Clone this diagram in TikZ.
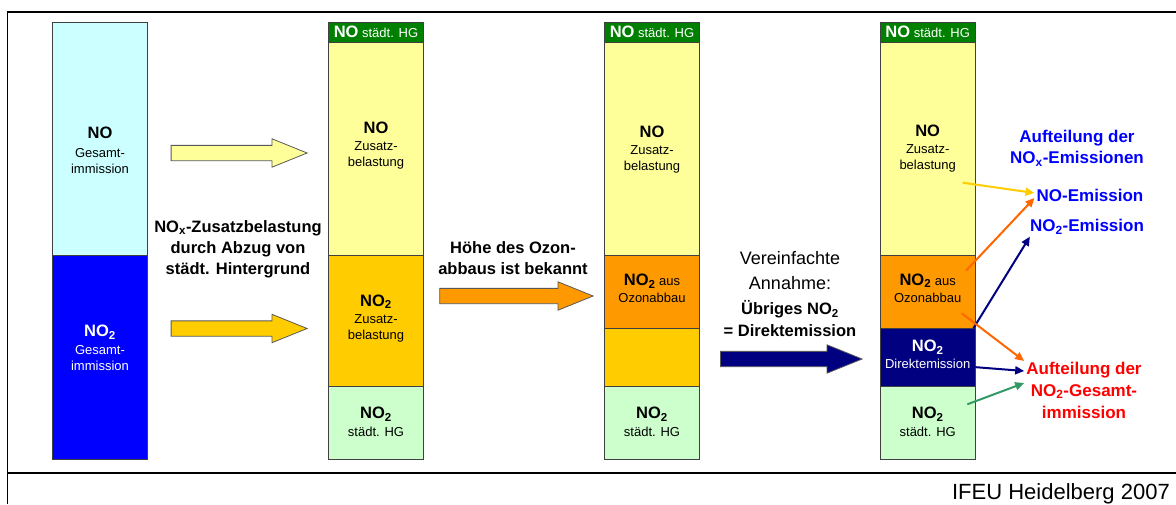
\documentclass[tikz,border=0pt]{standalone}
\usepackage{fontspec}
\setmainfont{Liberation Sans}
\usetikzlibrary{shapes.arrows,arrows.meta,positioning,calc}

\definecolor{nocyan}{HTML}{CCFFFF}
\definecolor{noblue}{HTML}{0000FF}
\definecolor{hggreen}{HTML}{008000}
\definecolor{zyellow}{HTML}{FFFF99}
\definecolor{zgold}{HTML}{FFCC00}
\definecolor{zorange}{HTML}{FF9900}
\definecolor{hglight}{HTML}{CCFFCC}
\definecolor{dnavy}{HTML}{000080}
\definecolor{arrorange}{HTML}{FF6600}
\definecolor{arrgreen}{HTML}{339966}
\definecolor{lblred}{HTML}{FF0000}

\newcommand{\nobig}{\fontsize{16.5}{19}\selectfont\bfseries}
\newcommand{\NOtwo}{NO\textsubscript{2}}

\begin{document}
\begin{tikzpicture}[
    x=1pt, y=-1pt,
    seg/.style={rectangle, draw=black!75, line width=0.8pt, minimum width=95.4pt,
        inner sep=0pt, outer sep=0pt, anchor=north west},
    lbl/.style={align=center, inner sep=0pt, font=\fontsize{13}{16}\selectfont},
    caption/.style={align=center, inner sep=0pt, font=\fontsize{16.5}{21}\selectfont\bfseries},
    side/.style={align=center, inner sep=2pt, font=\fontsize{17}{21}\selectfont\bfseries},
    blockarrow/.style={single arrow, draw=black!65, line width=0.8pt, single arrow tip angle=44,
        single arrow head indent=0pt, inner xsep=0pt, inner ysep=7.25pt,
        single arrow head extend=6.5pt, anchor=tail},
    thinarr/.style={line width=2pt, -{Triangle[length=9pt,width=8pt]}}
]
\useasboundingbox (0,0) rectangle (1176,504);

% frame
\draw[line width=1.3pt] (1176,12) -- (7.5,12) -- (7.5,504);
\draw[line width=1.3pt] (7.5,473) -- (1176,473);

% column 1: total immission
\node[seg, fill=nocyan, minimum height=233pt] (c1no) at (52.3,22) {};
\node[seg, fill=noblue, minimum height=204pt, below=0pt of c1no] (c1nozwei) {};

% column 2: additional load
\node[seg, fill=hggreen, minimum height=20.7pt] (c2hg) at (328.3,22) {};
\node[seg, fill=zyellow, minimum height=212.3pt, below=0pt of c2hg] (c2no) {};
\node[seg, fill=zgold, minimum height=131pt, below=0pt of c2no] (c2zus) {};
\node[seg, fill=hglight, minimum height=73pt, below=0pt of c2zus] (c2bg) {};

% column 3: ozone depletion
\node[seg, fill=hggreen, minimum height=20.7pt] (c3hg) at (604.3,22) {};
\node[seg, fill=zyellow, minimum height=212.3pt, below=0pt of c3hg] (c3no) {};
\node[seg, fill=zorange, minimum height=73.3pt, below=0pt of c3no] (c3ozon) {};
\node[seg, fill=zgold, minimum height=57.7pt, below=0pt of c3ozon] (c3rest) {};
\node[seg, fill=hglight, minimum height=73pt, below=0pt of c3rest] (c3bg) {};

% column 4: direct emission
\node[seg, fill=hggreen, minimum height=20.7pt] (c4hg) at (880,22) {};
\node[seg, fill=zyellow, minimum height=212.3pt, below=0pt of c4hg] (c4no) {};
\node[seg, fill=zorange, minimum height=73.3pt, below=0pt of c4no] (c4ozon) {};
\node[seg, fill=dnavy, minimum height=57.7pt, below=0pt of c4ozon] (c4dir) {};
\node[seg, fill=hglight, minimum height=73pt, below=0pt of c4dir] (c4bg) {};

% segment texts
\node[lbl] (t1no) at (100,150.5) {{\nobig NO}\\[2.6pt]Gesamt-\\immission};
\node[lbl, text=white] (t1nozwei) at (100,348) {{\nobig \NOtwo}\\[1.6pt]Gesamt-\\immission};
\foreach \col/\xc in {2/376, 3/652, 4/927.7}{
  \node[lbl, text=white] (t\col hg) at (\xc,32.3) {{\nobig NO} städt. HG};
  \node[lbl] (t\col bg) at (\xc,422) {{\nobig \NOtwo}\\[2pt]städt. HG};
}
\node[lbl] (t2no) at (376,145.5) {{\nobig NO}\\[1.6pt]Zusatz-\\belastung};
\node[lbl] (t2zus) at (376,318.5) {{\nobig \NOtwo}\\[1.6pt]Zusatz-\\belastung};
\node[lbl] (t3no) at (652,149.5) {{\nobig NO}\\[1.6pt]Zusatz-\\belastung};
\node[lbl] (t3ozon) at (652,288.5) {{\nobig \NOtwo} aus\\[1pt]Ozonabbau};
\node[lbl] (t4no) at (927.7,148.5) {{\nobig NO}\\[1.6pt]Zusatz-\\belastung};
\node[lbl] (t4ozon) at (927.7,288) {{\nobig \NOtwo} aus\\[1pt]Ozonabbau};
\node[lbl, text=white] (t4dir) at (927.7,354.5) {{\nobig \NOtwo}\\[1pt]Direktemission};

% block arrows and captions
\node[blockarrow, fill=zyellow, minimum height=136pt] (arr1) at (170.7,153) {};
\node[blockarrow, fill=zgold, minimum height=136pt] (arr2) at (170.7,328.5) {};
\node[caption] (cap1) at (238,249) {NO\textsubscript{x}-Zusatzbelastung\\durch Abzug von\\städt. Hintergrund};
\node[blockarrow, fill=zorange, minimum height=153.4pt] (arr3) at (439.3,296) {};
\node[caption] (cap2) at (513,258.5) {Höhe des Ozon-\\abbaus ist bekannt};
\node[blockarrow, fill=dnavy, minimum height=141.7pt] (arr4) at (720,359) {};
\node[align=center, inner sep=0pt, font=\fontsize{18}{25}\selectfont] (cap3) at (790,270.5) {Vereinfachte\\Annahme:};
\node[caption, font=\fontsize{16.5}{22}\selectfont\bfseries] (cap4) at (790,319) {Übriges \NOtwo\\= Direktemission};

% side labels
\node[side, text=noblue] (noxlbl) at (1077,148.5) {Aufteilung der\\NO\textsubscript{x}-Emissionen};
\node[side, text=noblue] (noem) at (1090,195) {NO-Emission};
\node[side, text=noblue] (nozweiem) at (1087,227) {\NOtwo-Emission};
\node[side, text=lblred, font=\fontsize{17}{22}\selectfont\bfseries] (immlbl) at (1084,390) {Aufteilung der\\\NOtwo-Gesamt-\\immission};

% split arrows
\coordinate (sno) at (962.7,182.7);
\coordinate (sozon) at (966,270.7);
\coordinate (sozonb) at (961.7,313.3);
\coordinate (sbg) at (967.3,404.3);
\draw[thinarr, zgold] (sno) -- ([yshift=2pt]noem.west);
\draw[thinarr, arrorange] (sozon) -- ([yshift=-3pt]noem.west);
\draw[thinarr, dnavy] ([xshift=-2pt]c4dir.north east) -- ([xshift=2pt]nozweiem.south west);
\draw[thinarr, arrorange] (sozonb) -- ([yshift=29pt]immlbl.west);
\draw[thinarr, dnavy] ([yshift=-10pt]c4dir.east) -- ([yshift=19pt]immlbl.west);
\draw[thinarr, arrgreen] (sbg) -- ([yshift=7pt]immlbl.west);

% footer
\node[anchor=base east, inner sep=0pt, font=\fontsize{22}{26}\selectfont] (ifeu) at (1170,499) {IFEU Heidelberg 2007};
\end{tikzpicture}
\end{document}
